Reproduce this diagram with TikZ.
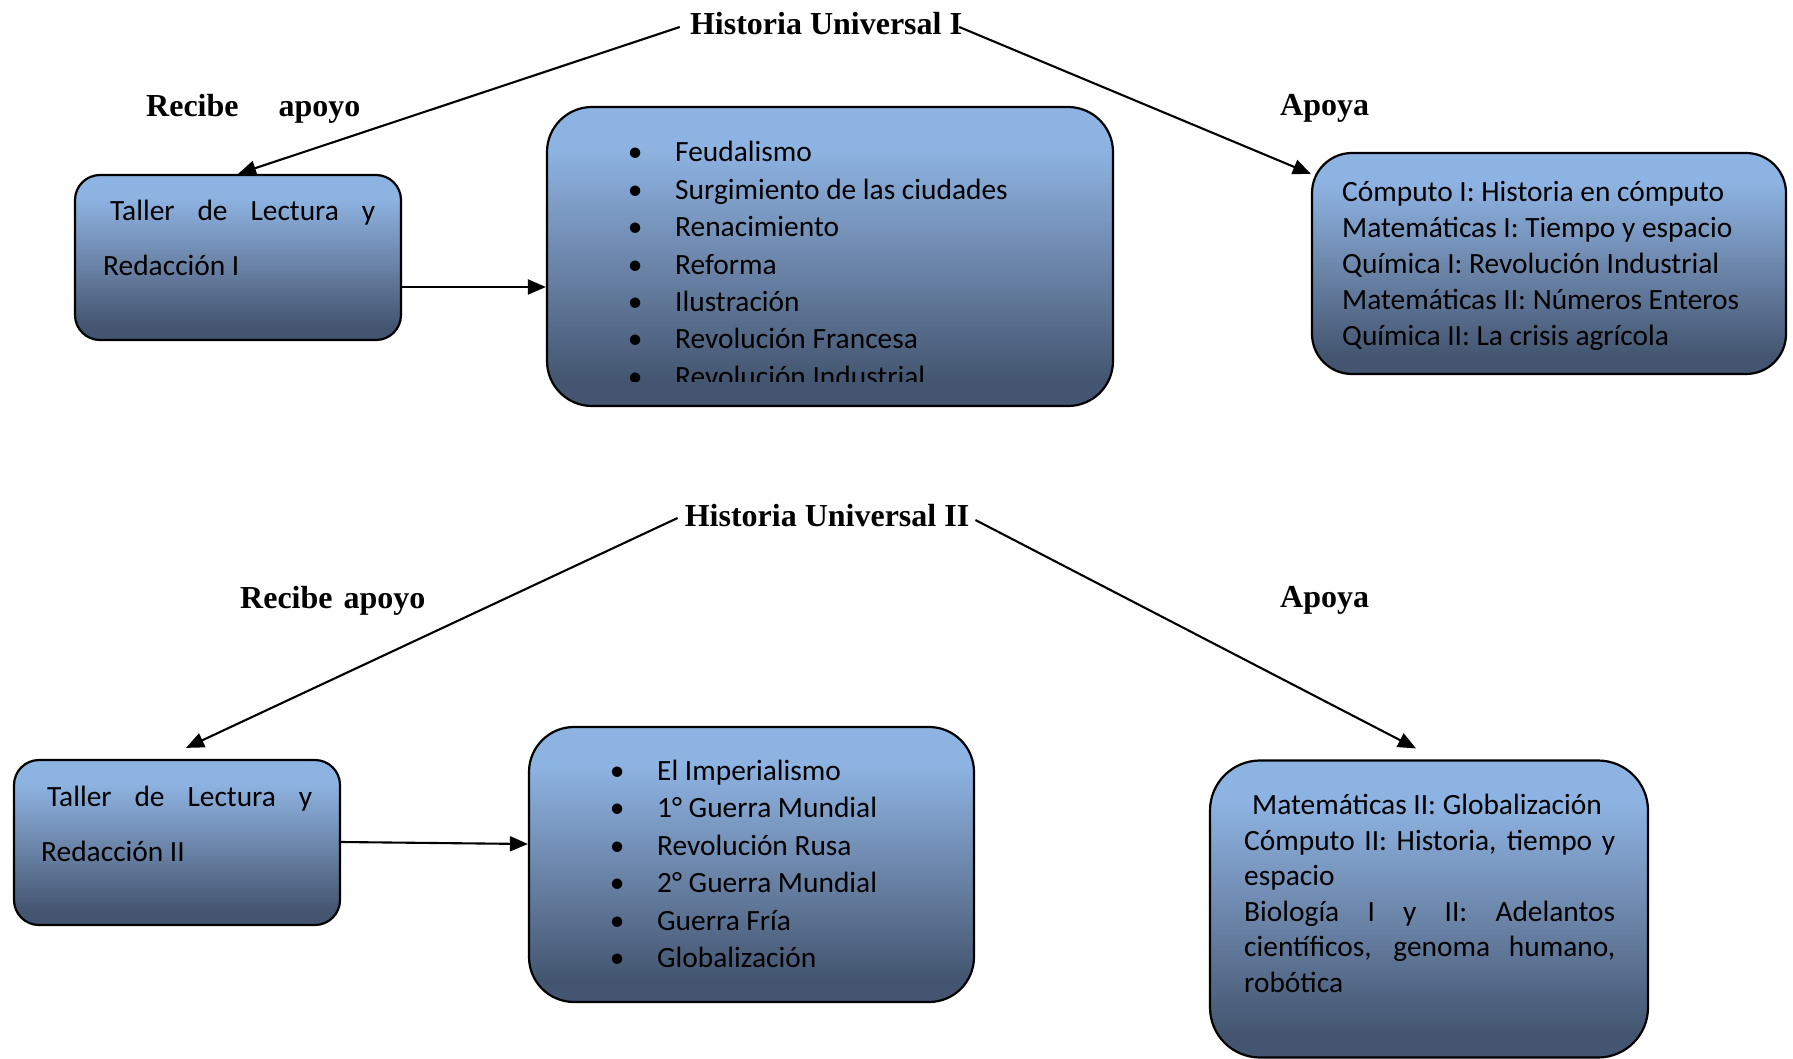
\documentclass[tikz,border=0pt]{standalone}
\usepackage{fontspec}
\setmainfont{Carlito}
\newfontfamily\titlefont{Liberation Serif}
\usetikzlibrary{arrows.meta}
\definecolor{ctop}{HTML}{8DB3E2}
\definecolor{cmid}{HTML}{6E88AD}
\definecolor{cbot}{HTML}{435570}
\pgfdeclareverticalshading{boxgrad}{100bp}{color(0bp)=(cbot); color(29bp)=(cbot); color(50bp)=(cmid); color(68bp)=(ctop); color(100bp)=(ctop)}
\newcommand\mybullet{\makebox[0pt]{•}\hspace{40pt}}
\tikzset{
  gbox/.style={draw=black, line width=2.2pt, shading=boxgrad, inner sep=0pt},
  arr/.style={line width=2.1pt, -{Triangle[length=18pt,width=15pt]}},
  ttl/.style={font=\titlefont\bfseries\fontsize{32}{38}\selectfont, inner sep=0pt},
  txt/.style={anchor=base west, inner sep=0pt},
}
\begin{document}
\begin{tikzpicture}[x=1pt,y=1pt]
\fill[white] (0,0) rectangle (1793,-1059);
\useasboundingbox (0,0) rectangle (1793,-1059);

% ---------- top part ----------
\node[gbox, rounded corners=25pt, minimum width=326pt, minimum height=165pt] (tl1) at (238,-257.5) {};
\node[gbox, rounded corners=45pt, minimum width=566pt, minimum height=299pt] (c1) at (830,-256.5) {};
\node[gbox, rounded corners=40pt, minimum width=474pt, minimum height=221pt] (r1) at (1549,-263.5) {};

\node[txt] (tl1t) at (103,-221) {\parbox[t]{272pt}{\fontsize{29.4}{55}\selectfont\hspace*{7pt}\makebox[265pt][s]{Taller de Lectura y}\\Redacción I}};
\begin{scope}
\clip (547,-107) rectangle (1113,-381);
\node[txt] (c1t) at (635,-162) {\parbox[t]{450pt}{\fontsize{29.4}{37.4}\selectfont
\mybullet Feudalismo\\
\mybullet Surgimiento de las ciudades\\
\mybullet Renacimiento\\
\mybullet Reforma\\
\mybullet Ilustración\\
\mybullet Revolución Francesa\\
\mybullet Revolución Industrial}};
\end{scope}
\node[txt] (r1t) at (1342,-201.5) {\parbox[t]{430pt}{\fontsize{29.4}{36}\selectfont
Cómputo I: Historia en cómputo\\
Matemáticas I: Tiempo y espacio\\
Química I: Revolución Industrial\\
Matemáticas II: Números Enteros\\
Química II: La crisis agrícola}};

\node[ttl] (t1) at (826,-24) {Historia Universal I};
\node[ttl, anchor=west] (l1) at (146,-108.5) {Recibe\hspace{40pt}apoyo};
\node[ttl, anchor=west] (a1) at (1280,-108.5) {Apoya};

\draw[arr] ([xshift=-10pt,yshift=-3pt]t1.west) -- (tl1.north);
\draw[arr] ([xshift=-3pt,yshift=-3pt]t1.east) -- ([yshift=-22pt]r1.north west);
\draw[arr] ([yshift=-29.5pt]tl1.east) coordinate (p1) -- (p1 -| c1.west);

% ---------- bottom part ----------
\node[gbox, rounded corners=25pt, minimum width=326pt, minimum height=165pt] (tl2) at (177,-842.5) {};
\node[gbox, rounded corners=45pt, minimum width=445pt, minimum height=275pt] (c2) at (751.5,-864.5) {};
\node[gbox, rounded corners=50pt, minimum width=438pt, minimum height=297pt] (r2) at (1429,-909) {};

\node[txt] (tl2t) at (41,-806.5) {\parbox[t]{272pt}{\fontsize{29.4}{55}\selectfont\hspace*{6pt}\makebox[265pt][s]{Taller de Lectura y}\\Redacción II}};
\node[txt] (c2t) at (617,-780.5) {\parbox[t]{350pt}{\fontsize{29.4}{37.4}\selectfont
\mybullet El Imperialismo\\
\mybullet 1° Guerra Mundial\\
\mybullet Revolución Rusa\\
\mybullet 2° Guerra Mundial\\
\mybullet Guerra Fría\\
\mybullet Globalización}};
\node[txt] (r2t) at (1244,-814.5) {\parbox[t]{371pt}{\fontsize{29.4}{35.6}\selectfont
\hspace*{8pt}Matemáticas II: Globalización\\
\makebox[371pt][s]{Cómputo II: Historia, tiempo y}\\
espacio\\
\makebox[371pt][s]{Biología I y II: Adelantos}\\
\makebox[371pt][s]{científicos, genoma humano,}\\
robótica}};

\node[ttl] (t2) at (827,-516) {Historia Universal II};
\node[ttl, anchor=west] (l2) at (240,-600.5) {Recibe\hspace{11pt}apoyo};
\node[ttl, anchor=west] (a2) at (1280,-600.5) {Apoya};

\draw[arr] ([xshift=-7pt,yshift=-2pt]t2.west) -- ([xshift=9pt,yshift=11pt]tl2.north);
\draw[arr] ([xshift=6pt,yshift=-4pt]t2.east) -- ([xshift=-13pt,yshift=11pt]r2.north);
\draw[arr] ([yshift=0.5pt]tl2.east) -- ([yshift=20.5pt]c2.west);
\end{tikzpicture}
\end{document}
